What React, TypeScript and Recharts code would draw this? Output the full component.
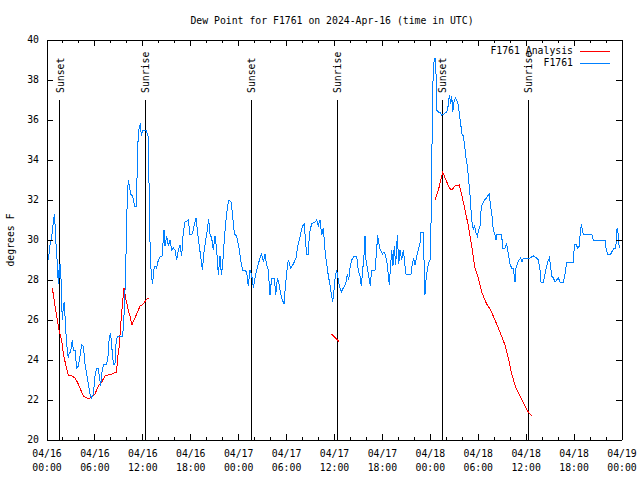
import React from 'react';
import { LineChart, Line, XAxis, YAxis, ReferenceLine, Legend } from 'recharts';

// hours since 04/16 00:00 UTC, dew point in deg F
const observed: [number, number][] = [
  [0.17, 29.0], [0.38, 29.75], [0.58, 30.1], [0.79, 30.9], [0.92, 31.3], [1.0, 30.8], [1.13, 29.8], [1.29, 28.8],
  [1.42, 27.8], [1.54, 28.8], [1.63, 28.1], [1.71, 28.8], [1.84, 26.75], [1.92, 26.0], [2.05, 26.7], [2.17, 26.9],
  [2.3, 25.8], [2.46, 24.8], [2.67, 24.1], [2.8, 24.4], [2.96, 24.4], [3.17, 25.0], [3.3, 24.5], [3.51, 24.5],
  [3.72, 23.6], [3.92, 23.7], [4.13, 24.2], [4.34, 24.75], [4.55, 24.7], [4.76, 23.8], [4.97, 23.3], [5.18, 22.8],
  [5.38, 22.3], [5.59, 22.1], [5.8, 22.3], [6.01, 23.2], [6.22, 23.6], [6.43, 23.6], [6.55, 23.2], [6.72, 22.7],
  [6.85, 23.3], [7.05, 23.75], [7.47, 23.8], [7.68, 24.3], [7.8, 25.2], [7.97, 25.3], [8.1, 24.7], [8.31, 23.8],
  [8.51, 23.8], [8.64, 24.8], [8.81, 25.2], [9.14, 25.2], [9.48, 25.2], [9.64, 26.2], [9.77, 27.5], [9.89, 29.2],
  [9.98, 30.9], [10.06, 32.2], [10.18, 33.0], [10.31, 32.7], [10.48, 32.3], [10.73, 32.2], [10.98, 31.7], [11.23, 31.7],
  [11.31, 34.4], [11.44, 35.2], [11.56, 35.7], [11.69, 35.8], [11.81, 35.2], [11.98, 35.5], [12.19, 35.5], [12.4, 35.5],
  [12.65, 35.2], [12.77, 33.0], [12.86, 30.5], [12.98, 28.8], [13.11, 28.1], [13.23, 27.8], [13.36, 28.5], [13.52, 28.7],
  [13.73, 28.6], [13.94, 29.0], [14.23, 29.2], [14.4, 29.2], [14.65, 30.5], [14.78, 29.7], [14.99, 30.2], [15.19, 29.7],
  [15.4, 30.0], [15.61, 29.5], [15.82, 29.6], [16.03, 29.5], [16.24, 29.0], [16.45, 29.5], [16.65, 29.75], [16.86, 29.2],
  [17.07, 30.4], [17.28, 30.9], [17.7, 31.0], [17.91, 30.25], [18.2, 30.3], [18.45, 30.8], [18.66, 31.1], [18.83, 30.5],
  [19.03, 29.8], [19.24, 29.2], [19.45, 28.5], [19.66, 29.4], [19.87, 30.0], [20.08, 30.5], [20.24, 31.05], [20.41, 30.3],
  [20.62, 30.1], [20.83, 29.5], [21.04, 30.2], [21.25, 29.5], [21.45, 28.25], [21.66, 29.2], [21.83, 28.25], [22.0, 28.8],
  [22.2, 30.0], [22.41, 31.0], [22.62, 31.7], [22.79, 32.0], [23.04, 31.9], [23.25, 31.2], [23.46, 30.3], [23.75, 30.2],
  [24.0, 29.7], [24.25, 29.0], [24.5, 28.5], [24.87, 28.5], [25.08, 28.2], [25.2, 27.7], [25.42, 28.5], [25.63, 28.25],
  [25.84, 27.6], [26.05, 28.1], [26.25, 28.5], [26.46, 28.8], [26.67, 29.1], [26.88, 29.3], [27.09, 28.9], [27.3, 29.3],
  [27.5, 28.75], [27.71, 28.5], [27.92, 27.25], [28.13, 28.1], [28.47, 28.1], [28.64, 27.25], [28.85, 28.1], [29.05, 27.8],
  [29.26, 27.3], [29.47, 27.0], [29.68, 26.8], [29.85, 27.7], [30.05, 28.5], [30.22, 29.0], [30.51, 28.6], [30.85, 28.8],
  [31.18, 29.1], [31.39, 29.7], [31.6, 30.0], [31.8, 30.4], [32.02, 30.7], [32.22, 30.8], [32.4, 29.8], [32.52, 29.3],
  [32.72, 29.3], [32.85, 30.25], [32.95, 30.5], [33.14, 30.8], [33.56, 30.9], [33.77, 31.0], [33.97, 30.7], [34.18, 31.0],
  [34.39, 30.25], [34.6, 30.6], [34.81, 29.5], [35.02, 28.8], [35.23, 28.2], [35.44, 27.75], [35.64, 27.2], [35.77, 26.9],
  [35.94, 27.5], [36.1, 28.2], [36.27, 28.5], [36.44, 28.1], [36.6, 27.7], [36.85, 27.4], [37.1, 27.6], [37.4, 27.8],
  [37.61, 28.3], [37.77, 28.0], [37.94, 28.6], [38.15, 29.0], [38.44, 29.2], [38.78, 29.2], [38.98, 28.5], [39.19, 28.2],
  [39.36, 27.7], [39.53, 28.5], [39.69, 29.2], [39.82, 30.2], [39.94, 29.0], [40.15, 28.5], [40.32, 28.1], [40.48, 27.7],
  [40.65, 28.5], [41.07, 28.5], [41.28, 29.5], [41.4, 30.25], [41.57, 29.8], [41.74, 29.5], [41.99, 29.3], [42.2, 29.4],
  [42.41, 29.2], [42.61, 28.8], [42.74, 28.2], [42.86, 27.75], [42.99, 28.5], [43.16, 29.5], [43.32, 28.7], [43.49, 29.7],
  [43.66, 28.75], [43.87, 30.25], [44.04, 28.8], [44.2, 29.5], [44.41, 29.0], [44.62, 29.5], [44.83, 28.7], [44.95, 28.3],
  [45.58, 28.3], [45.74, 28.8], [45.91, 29.1], [46.08, 28.75], [46.29, 29.2], [46.49, 29.5], [46.7, 29.8], [46.83, 30.4],
  [47.12, 30.4], [47.21, 29.0], [47.33, 27.25], [47.46, 28.0], [47.58, 28.4], [47.75, 28.8], [47.96, 29.0], [48.13, 31.5],
  [48.25, 36.4], [48.38, 38.8], [48.59, 39.1], [48.71, 38.3], [48.8, 36.5], [49.01, 36.4], [49.22, 36.4], [49.42, 36.25],
  [49.71, 36.3], [50.05, 36.4], [50.26, 36.75], [50.38, 37.25], [50.55, 36.8], [50.68, 37.2], [50.8, 36.4], [50.97, 36.9],
  [51.13, 37.1], [51.3, 37.0], [51.51, 36.75], [51.64, 36.25], [51.8, 35.8], [51.97, 35.3], [52.14, 35.2], [52.3, 34.7],
  [52.47, 34.1], [52.64, 33.7], [52.8, 33.0], [52.97, 32.25], [53.09, 31.5], [53.22, 30.9], [53.39, 30.5], [53.51, 30.75],
  [53.68, 30.4], [53.89, 30.2], [54.05, 30.5], [54.22, 30.7], [54.39, 31.7], [54.56, 31.8], [54.76, 32.0], [55.05, 32.1],
  [55.26, 32.25], [55.38, 32.3], [55.55, 31.7], [55.72, 31.2], [55.89, 30.5], [56.1, 30.25], [56.22, 30.0], [56.31, 30.3],
  [56.72, 30.3], [56.93, 30.25], [57.06, 29.6], [57.35, 29.6], [57.56, 29.8], [57.77, 29.3], [57.98, 28.8], [58.18, 28.6],
  [58.39, 28.6], [58.6, 27.9], [58.73, 28.6], [58.89, 28.8], [59.1, 29.0], [59.31, 29.1], [59.48, 28.9], [59.65, 29.1],
  [59.98, 29.1], [60.48, 29.1], [60.9, 29.2], [61.32, 29.1], [61.53, 29.0], [61.73, 28.5], [61.86, 27.9], [62.15, 27.9],
  [62.36, 28.3], [62.57, 28.7], [62.78, 29.0], [62.9, 29.1], [63.03, 28.8], [63.2, 28.2], [63.41, 28.1], [63.61, 27.9],
  [63.82, 28.0], [64.03, 28.1], [64.24, 27.9], [64.66, 27.9], [64.87, 28.3], [65.08, 28.9], [65.7, 28.9], [65.91, 28.9],
  [66.04, 29.75], [66.24, 29.8], [66.45, 29.6], [66.66, 29.7], [66.78, 30.4], [66.91, 30.8], [67.04, 30.5], [67.16, 30.3],
  [68.2, 30.3], [68.41, 30.0], [69.87, 30.0], [70.0, 29.6], [70.17, 29.3], [70.6, 29.3], [70.85, 29.5], [71.05, 29.6],
  [71.22, 29.6], [71.35, 30.5], [71.47, 30.6], [71.55, 30.0], [71.68, 29.6],
];

const analysisA: [number, number][] = [
  [0.67, 27.6], [1.0, 26.7], [1.29, 26.0], [1.54, 25.4], [1.84, 25.0], [2.05, 24.3], [2.38, 23.7], [2.67, 23.25],
  [3.09, 23.2], [3.51, 23.1], [3.8, 22.9], [4.13, 22.6], [4.55, 22.2], [4.97, 22.1], [5.38, 22.1], [5.68, 22.2],
  [6.01, 22.3], [6.43, 22.7], [6.85, 22.9], [7.26, 23.2], [7.68, 23.25], [8.1, 23.3], [8.72, 23.4], [8.81, 24.0],
  [9.06, 24.7], [9.22, 25.75], [9.43, 26.7], [9.64, 27.6], [9.89, 27.0], [10.18, 26.5], [10.39, 26.2], [10.64, 25.75],
  [10.89, 26.0], [11.23, 26.3], [11.65, 26.7], [12.06, 26.8], [12.4, 27.0], [12.69, 27.1],
];
const analysisB: [number, number][] = [[35.64, 25.3], [36.6, 24.9]];
const analysisC: [number, number][] = [
  [48.59, 32.0], [49.01, 32.5], [49.55, 33.4], [49.96, 33.0], [50.38, 32.6], [50.68, 32.5], [51.09, 32.7], [51.64, 32.75],
  [51.93, 32.25], [52.35, 31.5], [52.76, 30.7], [53.18, 29.7], [53.59, 28.6], [54.01, 28.1], [54.43, 27.4], [55.05, 26.8],
  [55.55, 26.5], [56.1, 26.0], [56.72, 25.4], [57.35, 24.75], [57.77, 24.1], [58.18, 23.3], [58.73, 22.6], [59.23, 22.2],
  [59.85, 21.7], [60.27, 21.4], [60.69, 21.2],
];

const sunEvents: [number, string][] = [
  [1.6, 'Sunset'], [12.33, 'Sunrise'], [25.55, 'Sunset'], [36.32, 'Sunrise'], [49.5, 'Sunset'], [60.27, 'Sunrise'],
];

const xTicks = [0, 2, 4, 6, 8, 10, 12, 14, 16, 18, 20, 22, 24, 26, 28, 30, 32, 34, 36, 38, 40, 42, 44, 46, 48, 50, 52, 54, 56, 58, 60, 62, 64, 66, 68, 70, 72];
const xDates = ['04/16', '04/16', '04/16', '04/16', '04/17', '04/17', '04/17', '04/17', '04/18', '04/18', '04/18', '04/18', '04/19'];
const xTimes = ['00:00', '06:00', '12:00', '18:00', '00:00', '06:00', '12:00', '18:00', '00:00', '06:00', '12:00', '18:00', '00:00'];
const yTicks = [20, 22, 24, 26, 28, 30, 32, 34, 36, 38, 40];
const legendOrder = ['F1761 Analysis', 'F1761'];

const FONT = '"DejaVu Sans Mono", monospace';
const FS = 9.8;

const toRows = (pts: [number, number][]) => pts.map(([h, v]) => ({ h, v }));
const obsData = toRows(observed);
const anaData = [
  ...toRows(analysisA),
  { h: 24, v: null },
  ...toRows(analysisB),
  { h: 42, v: null },
  ...toRows(analysisC),
];

const BottomTick = ({ x, y, payload }: any) => {
  const i = xTicks.indexOf(payload.value);
  const major = payload.value % 6 === 0;
  return (
    <g>
      <line x1={x} x2={x} y1={y} y2={y - (major ? 6 : 3)} stroke="#000" />
      {major && (
        <text x={x} y={y + 17} textAnchor="middle" fontFamily={FONT} fontSize={FS} fill="#000">
          <tspan x={x}>{xDates[i / 3]}</tspan>
          <tspan x={x} dy={14}>{xTimes[i / 3]}</tspan>
        </text>
      )}
    </g>
  );
};

const TopTick = ({ x, y, payload }: any) => {
  const major = payload.value % 6 === 0;
  return <line x1={x} x2={x} y1={y} y2={y + (major ? 6 : 3)} stroke="#000" />;
};

const LeftTick = ({ x, y, payload }: any) => (
  <g>
    <line x1={x} x2={x + 6} y1={y} y2={y} stroke="#000" />
    <text x={x - 8} y={y} dy="0.35em" textAnchor="end" fontFamily={FONT} fontSize={FS} fill="#000">
      {payload.value}
    </text>
  </g>
);

const RightTick = ({ x, y }: any) => <line x1={x} x2={x - 6} y1={y} y2={y} stroke="#000" />;

const SunLabel = ({ viewBox, text }: any) => {
  const x = viewBox.x + 4;
  const y = viewBox.y - 7;
  return (
    <text x={x} y={y} transform={`rotate(-90, ${x}, ${y})`} fontFamily={FONT} fontSize={FS} fill="#000">
      {text}
    </text>
  );
};

const LegendBox = ({ payload }: any) => {
  const items = [...(payload || [])].sort((a: any, b: any) => legendOrder.indexOf(a.value) - legendOrder.indexOf(b.value));
  return (
    <div style={{ fontFamily: FONT, fontSize: FS, color: '#000' }}>
      {items.map((p: any) => (
        <div key={p.value} style={{ display: 'flex', justifyContent: 'flex-end', alignItems: 'center', height: 12 }}>
          <span style={{ lineHeight: '12px' }}>{p.value}</span>
          <span style={{ display: 'inline-block', width: 30, borderTop: `1px solid ${p.color}`, marginLeft: 7 }} />
        </div>
      ))}
    </div>
  );
};

export default function App() {
  return (
    <div style={{ position: 'absolute', left: 0, top: 0, width: 640, height: 480, background: '#fff' }}>
      <style>{`.recharts-surface line, .recharts-surface path { shape-rendering: crispEdges; }`}</style>
      <LineChart width={640} height={480} margin={{ top: 30, right: 8, bottom: 10, left: 17 }}>
        <XAxis
          dataKey="h"
          type="number"
          domain={[0, 72]}
          ticks={xTicks}
          interval={0}
          height={30}
          tickSize={0}
          tickMargin={0}
          tick={<BottomTick />}
          axisLine={{ stroke: '#000' }}
          allowDataOverflow
        />
        <XAxis
          xAxisId="top"
          orientation="top"
          dataKey="h"
          type="number"
          domain={[0, 72]}
          ticks={xTicks}
          interval={0}
          height={10}
          tickSize={0}
          tickMargin={0}
          tick={<TopTick />}
          axisLine={{ stroke: '#000' }}
          allowDataOverflow
        />
        <YAxis
          type="number"
          domain={[20, 40]}
          ticks={yTicks}
          interval={0}
          width={30}
          tickSize={0}
          tickMargin={0}
          tick={<LeftTick />}
          axisLine={{ stroke: '#000' }}
          allowDataOverflow
        />
        <YAxis
          yAxisId="right"
          orientation="right"
          type="number"
          domain={[20, 40]}
          ticks={yTicks}
          interval={0}
          width={10}
          tickSize={0}
          tickMargin={0}
          tick={<RightTick />}
          axisLine={{ stroke: '#000' }}
          allowDataOverflow
        />
        {sunEvents.map(([h, name]) => (
          <ReferenceLine
            key={h}
            segment={[{ x: h, y: 37 }, { x: h, y: 20 }]}
            stroke="#000"
            strokeWidth={1}
            label={<SunLabel text={name} />}
          />
        ))}
        <Line
          data={anaData}
          dataKey="v"
          name="F1761 Analysis"
          stroke="#ff0000"
          strokeWidth={1}
          dot={false}
          connectNulls={false}
          isAnimationActive={false}
        />
        <Line
          data={obsData}
          dataKey="v"
          name="F1761"
          stroke="#0080ff"
          strokeWidth={1}
          dot={false}
          isAnimationActive={false}
        />
        <Legend
          layout="vertical"
          align="center"
          verticalAlign="middle"
          content={<LegendBox />}
          wrapperStyle={{ position: 'absolute', top: 45, left: 420, width: 190, height: 24 }}
        />
        <text x={332} y={24} textAnchor="middle" fontFamily={FONT} fontSize={FS} fill="#000">
          Dew Point for F1761 on 2024-Apr-16 (time in UTC)
        </text>
        <text x={14} y={240} textAnchor="middle" transform="rotate(-90, 14, 240)" fontFamily={FONT} fontSize={FS} fill="#000">
          degrees F
        </text>
      </LineChart>
    </div>
  );
}
